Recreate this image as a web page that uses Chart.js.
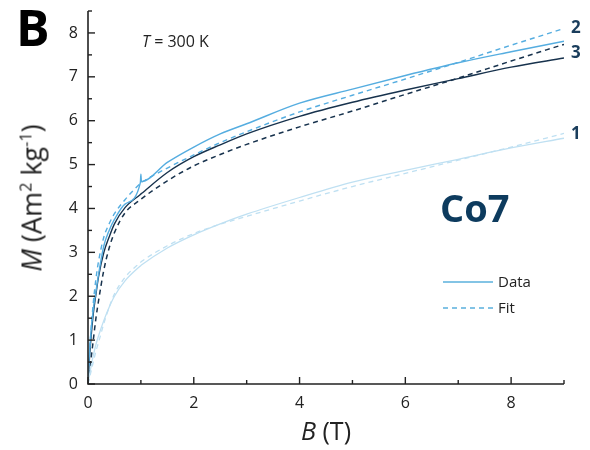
<!DOCTYPE html>
<html>
<head>
<meta charset="utf-8">
<script src="https://cdn.jsdelivr.net/npm/chart.js@4/dist/chart.umd.min.js"></script>
<style>
  html, body { margin: 0; padding: 0; background: #fff; }
  #wrap { position: relative; width: 590px; height: 450px; font-family: 'Open Sans', sans-serif; color: #222; }
  #chart { position: absolute; left: 0; top: 0; }
  .txt { position: absolute; white-space: nowrap; line-height: 1; }
  .panel { left: 16px; top: 2px; font-size: 50px; font-weight: 700; color: #000; }
  .temp { left: 142px; top: 33px; font-size: 16px; }
  .sample { left: 440px; top: 188px; font-size: 38px; font-weight: 700; color: #0d3b5e; }
  .num { left: 571px; font-size: 17px; font-weight: 700; color: #1a3d5c; }
  .ytitle { left: 31px; top: 198px; font-size: 27px; transform: translate(-50%, -50%) rotate(-90deg); }
  .xtitle { left: 326px; top: 430px; font-size: 25px; transform: translate(-50%, -50%); }
  sup { font-size: 0.6em; vertical-align: 0.6em; line-height: 0; }
  .leg { left: 443px; font-size: 15px; display: flex; align-items: center; }
  .leg svg { margin-right: 5px; }
</style>
</head>
<body>
<div id="wrap">
  <canvas id="chart" width="590" height="450"></canvas>
  <div class="txt panel">B</div>
  <div class="txt temp"><i>T</i> = 300 K</div>
  <div class="txt sample">Co7</div>
  <div class="txt num" style="top:18px">2</div>
  <div class="txt num" style="top:43px">3</div>
  <div class="txt num" style="top:124px">1</div>
  <div class="txt ytitle"><i>M</i> (Am<sup>2</sup> kg<sup>-1</sup>)</div>
  <div class="txt xtitle"><i>B</i> (T)</div>
  <div class="txt leg" style="top:274px"><svg width="50" height="4"><line x1="0" y1="2" x2="50" y2="2" stroke="#5ab0dd" stroke-width="1.4"/></svg>Data</div>
  <div class="txt leg" style="top:300px"><svg width="50" height="4"><line x1="0" y1="2" x2="50" y2="2" stroke="#5ab0dd" stroke-width="1.4" stroke-dasharray="5 4"/></svg>Fit</div>
</div>
<script>
// field values (T), shared by every curve
const fieldB = [0, 0.02, 0.05, 0.1, 0.15, 0.2, 0.3, 0.4, 0.5, 0.7, 0.99, 1, 1.01, 1.5, 2, 2.5, 3, 4, 5, 6, 7, 8, 9];

// magnetisation (Am2/kg)
const m1Data = [0, 0.15, 0.35, 0.65, 0.9, 1.1, 1.45, 1.75, 2.0, 2.35, 2.69, 2.7, 2.71, 3.1, 3.4, 3.65, 3.87, 4.25, 4.6, 4.87, 5.12, 5.38, 5.60];
const m1Fit  = [0, 0.1, 0.25, 0.5, 0.75, 0.95, 1.38, 1.75, 2.05, 2.43, 2.77, 2.78, 2.79, 3.15, 3.43, 3.64, 3.82, 4.17, 4.5, 4.8, 5.1, 5.4, 5.71];
const m2Data = [0, 0.55, 1.1, 1.7, 2.1, 2.5, 3.15, 3.5, 3.75, 4.1, 4.59, 4.78, 4.61, 5.05, 5.4, 5.7, 5.93, 6.4, 6.72, 7.03, 7.32, 7.57, 7.81];
const m2Fit  = [0, 0.5, 1.1, 1.85, 2.4, 2.8, 3.35, 3.65, 3.88, 4.2, 4.57, 4.58, 4.59, 4.92, 5.22, 5.5, 5.75, 6.2, 6.58, 6.95, 7.33, 7.72, 8.10];
const m3Data = [0, 0.45, 0.95, 1.6, 2.05, 2.45, 3.0, 3.35, 3.65, 4.02, 4.32, 4.33, 4.34, 4.82, 5.18, 5.45, 5.7, 6.1, 6.42, 6.7, 6.96, 7.22, 7.43];
const m3Fit  = [0, 0.22, 0.5, 1.0, 1.5, 1.9, 2.6, 3.1, 3.45, 3.9, 4.2, 4.21, 4.22, 4.63, 4.97, 5.23, 5.46, 5.86, 6.22, 6.6, 6.97, 7.36, 7.74];

const xMajor = [0, 2, 4, 6, 8];
const yMajor = [0, 1, 2, 3, 4, 5, 6, 7, 8];

const COL = { light: '#bfe0f2', mid: '#55ade0', dark: '#17324d' };
const INK = '#222';

const pts = (ys) => fieldB.map((b, i) => ({ x: b, y: ys[i] }));

const curve = (ys, color, dashed, width) => ({
  data: pts(ys),
  borderColor: color,
  borderWidth: width,
  borderDash: dashed ? [5, 4] : [],
  pointRadius: 0,
  fill: false,
  cubicInterpolationMode: 'monotone',
});

// axes with inward major/minor ticks
const axesPlugin = {
  id: 'axes',
  afterDraw(chart) {
    const { ctx, chartArea: a, scales: { x, y } } = chart;
    ctx.save();
    ctx.strokeStyle = INK;
    ctx.lineWidth = 1.6;
    ctx.beginPath();
    ctx.moveTo(a.left, a.top);
    ctx.lineTo(a.left, a.bottom);
    ctx.lineTo(a.right, a.bottom);
    ctx.stroke();
    ctx.lineWidth = 1.4;
    for (let v = 0; v <= 9; v += 1) {
      const px = x.getPixelForValue(v);
      const len = xMajor.includes(v) ? 7 : 4;
      ctx.beginPath(); ctx.moveTo(px, a.bottom); ctx.lineTo(px, a.bottom - len); ctx.stroke();
    }
    for (let v = 0; v <= 8.5; v += 0.5) {
      const py = y.getPixelForValue(v);
      const len = yMajor.includes(v) ? 7 : 4;
      ctx.beginPath(); ctx.moveTo(a.left, py); ctx.lineTo(a.left + len, py); ctx.stroke();
    }
    ctx.restore();
  },
};

const tickFont = { family: "'Open Sans', sans-serif", size: 16 };

new Chart(document.getElementById('chart'), {
  type: 'line',
  data: {
    datasets: [
      curve(m1Data, COL.light, false, 1.3),
      curve(m1Fit, COL.light, true, 1.3),
      curve(m2Data, COL.mid, false, 1.4),
      curve(m2Fit, COL.mid, true, 1.4),
      curve(m3Data, COL.dark, false, 1.4),
      curve(m3Fit, COL.dark, true, 1.5),
    ],
  },
  options: {
    responsive: false,
    animation: false,
    layout: { padding: { left: 0, top: 11, right: 26, bottom: 0 } },
    plugins: { legend: { display: false }, tooltip: { enabled: false } },
    scales: {
      x: {
        type: 'linear', min: 0, max: 9,
        grid: { display: false, drawTicks: false },
        border: { display: false },
        ticks: {
          stepSize: 1, autoSkip: false, maxRotation: 0, padding: 10,
          color: INK, font: tickFont,
          callback: (v) => xMajor.includes(v) ? String(v) : '',
        },
        afterFit: (s) => { s.height = 66; },
      },
      y: {
        type: 'linear', min: 0, max: 8.5,
        grid: { display: false, drawTicks: false },
        border: { display: false },
        ticks: {
          stepSize: 0.5, autoSkip: false, padding: 10,
          color: INK, font: tickFont,
          callback: (v) => yMajor.includes(v) ? String(v) : '',
        },
        afterFit: (s) => { s.width = 88; s.paddingTop = 0; s.paddingBottom = 0; },
      },
    },
  },
  plugins: [axesPlugin],
});
</script>
</body>
</html>
